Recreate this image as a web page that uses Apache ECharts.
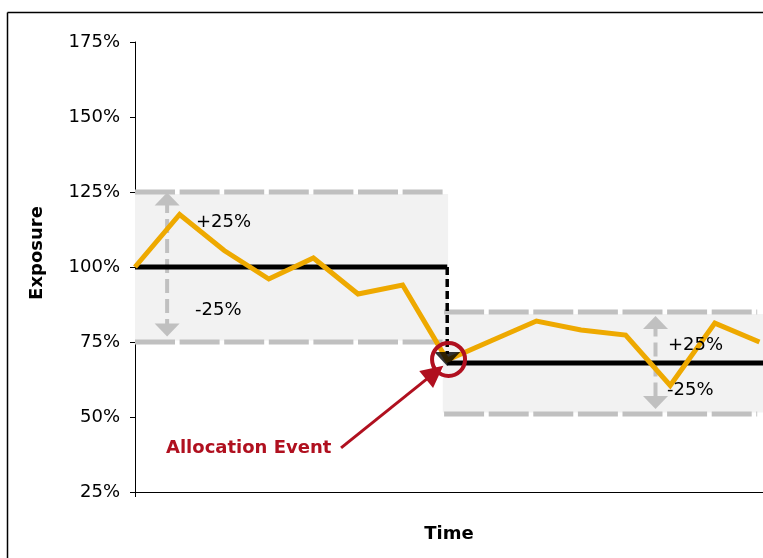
<!DOCTYPE html>
<html>
<head>
<meta charset="utf-8">
<script src="https://cdn.jsdelivr.net/npm/echarts@6/dist/echarts.min.js"></script>
<style>
  html, body { margin: 0; padding: 0; background: #fff; }
  #chart { width: 763px; height: 558px; }
</style>
</head>
<body>
<div id="chart"></div>
<script>
// time steps (x positions of the exposure path)
const periods = [0, 1, 2, 3, 4, 5, 6, 7, 8, 9, 10, 11, 12, 13, 14]
// portfolio exposure (%)
const exposure = [100, 117.5, 105.5, 96, 103, 91, 94, 69, 75.5, 82, 79, 77.3, 60.5, 81.3, 75]
// target exposure before / after the allocation event
const eventStep = 7
const targetBefore = 100
const targetAfter = 68
// tolerance bands (upper / lower) around each target
const bandBefore = [125, 75]
const bandAfter = [85, 51]
// y axis ticks
const yTicks = [25, 50, 75, 100, 125, 150, 175]

const xMax = 14.08
const ORANGE = '#EEA900'
const GREY = '#C0C0C0'
const RED = '#B0101F'
const FONT = '"DejaVu Sans", Verdana, sans-serif'

const chart = echarts.init(document.getElementById('chart'))

const dashed = (pts) => ({
  type: 'line',
  data: pts,
  symbol: 'none',
  silent: true,
  z: 2,
  lineStyle: { color: GREY, width: 5, type: [40, 4.6] }
})

const greyArrow = (x, top, bottom) => ({
  type: 'line',
  silent: true,
  z: 2,
  data: [
    { value: [x, top], symbol: 'triangle', symbolSize: [25, 13] },
    { value: [x, bottom], symbol: 'triangle', symbolRotate: 180, symbolSize: [25, 13] }
  ],
  itemStyle: { color: GREY },
  lineStyle: { color: GREY, width: 4, type: [14, 6] }
})

chart.setOption({
  animation: false,
  grid: { left: 135, right: 0, top: 42, bottom: 66 },
  xAxis: {
    type: 'value',
    min: 0,
    max: xMax,
    interval: 100,
    name: 'Time',
    nameLocation: 'middle',
    nameGap: 33,
    nameTextStyle: { fontFamily: FONT, fontSize: 18, fontWeight: 'bold', color: '#000' },
    axisLine: { lineStyle: { color: '#000', width: 1 } },
    axisTick: { show: true, length: 5, lineStyle: { color: '#000' } },
    axisLabel: { show: false },
    splitLine: { show: false }
  },
  yAxis: {
    type: 'value',
    min: yTicks[0],
    max: yTicks[yTicks.length - 1],
    interval: 25,
    axisLine: { show: true, lineStyle: { color: '#000', width: 1 } },
    axisTick: { show: true, length: 5, lineStyle: { color: '#000' } },
    axisLabel: {
      formatter: '{value}%',
      margin: 15,
      fontFamily: FONT,
      fontSize: 18,
      color: '#000'
    },
    splitLine: { show: false }
  },
  graphic: [
    { type: 'line', shape: { x1: 7.5, y1: 12.5, x2: 763, y2: 12.5 }, style: { stroke: '#000', lineWidth: 1.5 } },
    { type: 'line', shape: { x1: 7.5, y1: 12.5, x2: 7.5, y2: 558 }, style: { stroke: '#000', lineWidth: 1.5 } },
    {
      type: 'text', x: 37, y: 253, rotation: Math.PI / 2,
      style: { text: 'Exposure', font: 'bold 18px ' + FONT, fill: '#000', textAlign: 'center', textVerticalAlign: 'middle' }
    },
    { type: 'text', x: 196, y: 222, z: 20, style: { text: '+25%', font: '18px ' + FONT, fill: '#000', textVerticalAlign: 'middle' } },
    { type: 'text', x: 195, y: 310, z: 20, style: { text: '-25%', font: '18px ' + FONT, fill: '#000', textVerticalAlign: 'middle' } },
    { type: 'text', x: 668, y: 345, z: 20, style: { text: '+25%', font: '18px ' + FONT, fill: '#000', textVerticalAlign: 'middle' } },
    { type: 'text', x: 667, y: 390, z: 20, style: { text: '-25%', font: '18px ' + FONT, fill: '#000', textVerticalAlign: 'middle' } },
    { type: 'text', x: 166, y: 448, z: 20, style: { text: 'Allocation Event', font: 'bold 18px ' + FONT, fill: RED, textVerticalAlign: 'middle' } }
  ],
  series: [
    // shaded tolerance bands
    {
      type: 'line',
      data: [],
      silent: true,
      z: 1,
      markArea: {
        silent: true,
        itemStyle: { color: '#F2F2F2' },
        data: [
          [{ coord: [0, bandBefore[0] - 0.7] }, { coord: [eventStep + 0.02, bandBefore[1] + 0.5] }],
          [{ coord: [eventStep - 0.1, bandAfter[0] - 0.7] }, { coord: [xMax, bandAfter[1] + 0.5] }]
        ]
      }
    },
    dashed([[0, bandBefore[0]], [eventStep, bandBefore[0]]]),
    dashed([[0, bandBefore[1]], [eventStep, bandBefore[1]]]),
    dashed([[eventStep - 0.07, bandAfter[0]], [13.95, bandAfter[0]]]),
    dashed([[eventStep - 0.07, bandAfter[1]], [13.95, bandAfter[1]]]),
    greyArrow(0.72, 122.7, 79),
    greyArrow(11.67, 81.5, 54.8),
    // target exposure
    {
      type: 'line',
      data: [[0, targetBefore], [eventStep, targetBefore]],
      symbol: 'none',
      silent: true,
      z: 3,
      lineStyle: { color: '#000', width: 5 }
    },
    {
      type: 'line',
      data: [[eventStep, targetBefore], [eventStep, targetAfter + 3]],
      symbol: 'none',
      silent: true,
      z: 3,
      lineStyle: { color: '#000', width: 3.5, type: [8, 4] }
    },
    {
      type: 'line',
      data: [[eventStep, targetAfter], [xMax, targetAfter]],
      symbol: 'none',
      silent: true,
      z: 3,
      lineStyle: { color: '#000', width: 5 }
    },
    // exposure path
    {
      type: 'line',
      data: periods.map((p, i) => [p, exposure[i]]),
      symbol: 'none',
      silent: true,
      z: 4,
      lineStyle: { color: ORANGE, width: 5, join: 'miter' }
    },
    // allocation event marker
    {
      type: 'scatter',
      data: [[eventStep, 69.3]],
      symbol: 'triangle',
      symbolRotate: 180,
      symbolSize: [26, 14],
      silent: true,
      z: 5,
      itemStyle: { color: '#000' }
    },
    {
      type: 'scatter',
      data: [[eventStep + 0.03, 69.2]],
      symbol: 'circle',
      symbolSize: 33,
      silent: true,
      z: 6,
      itemStyle: { color: 'rgba(0,0,0,0)', borderColor: RED, borderWidth: 4, opacity: 1 },
      markLine: {
        silent: true,
        symbol: ['none', 'triangle'],
        symbolSize: 22,
        label: { show: false },
        lineStyle: { color: RED, width: 3, type: 'solid' },
        data: [[{ coord: [4.62, 39.7] }, { coord: [6.72, 64.8] }]]
      }
    }
  ]
})
</script>
</body>
</html>
